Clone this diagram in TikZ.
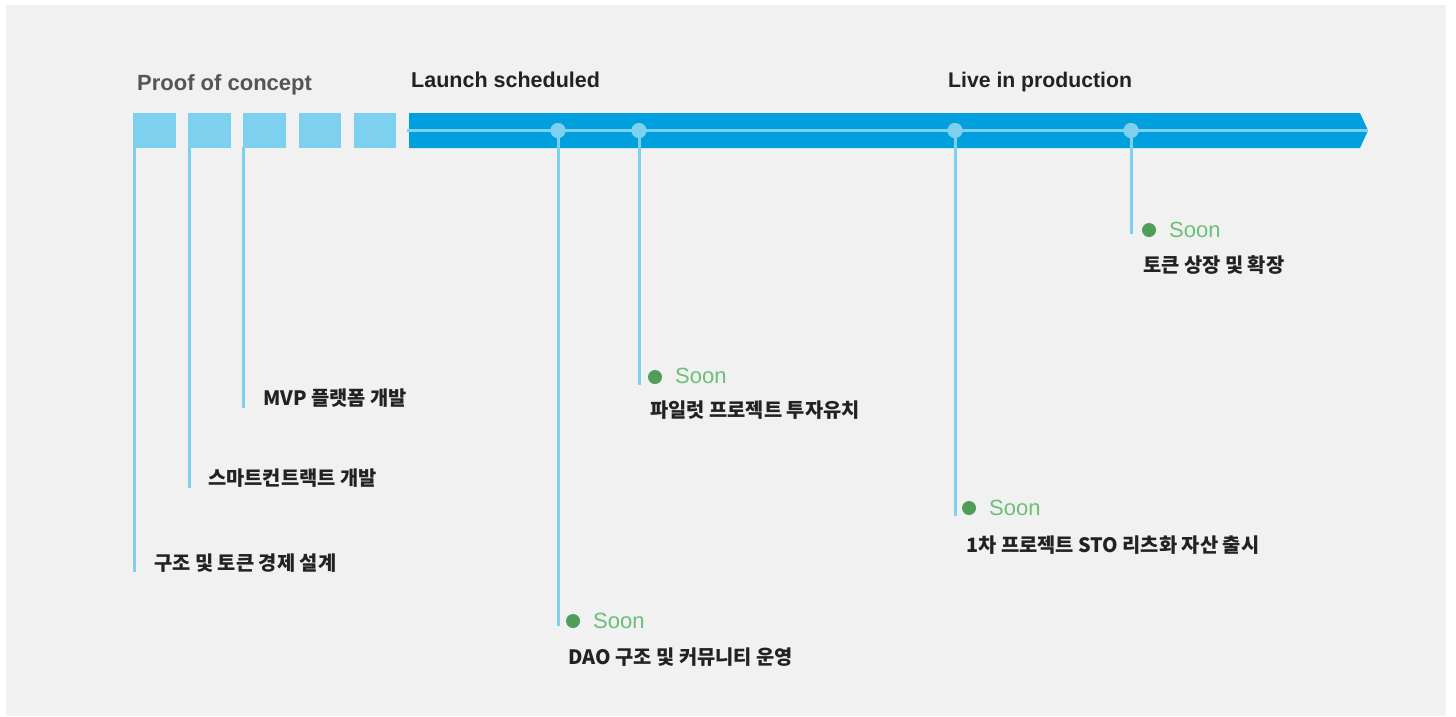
\documentclass[tikz,border=0pt]{standalone}
\usepackage{fontspec}
\setmainfont{Liberation Sans}
\newfontfamily\kr{Noto Sans CJK KR}
\definecolor{bgc}{HTML}{F1F1F1}
\definecolor{lightb}{HTML}{7ED0EF}
\definecolor{barb}{HTML}{00A0DF}
\definecolor{dotg}{HTML}{4E9E5A}
\definecolor{soong}{HTML}{6BBF78}
\definecolor{txt}{HTML}{222222}
\definecolor{greyt}{HTML}{555555}
\tikzset{
  sqbox/.style={fill=lightb, draw=none, minimum width=43pt, minimum height=35pt, inner sep=0pt, anchor=north west},
  bluedot/.style={circle, fill=lightb, draw=none, minimum size=15pt, inner sep=0pt},
  greendot/.style={circle, fill=dotg, draw=none, minimum size=14pt, inner sep=0pt},
  vline/.style={draw=lightb, line width=3pt},
  phase/.style={anchor=base west, inner sep=0pt, font=\fontsize{21.5}{24}\selectfont\bfseries, text=txt},
  soonlbl/.style={anchor=base west, inner sep=0pt, font=\fontsize{22}{24}\selectfont, text=soong},
  task/.style={anchor=base west, inner sep=0pt, font=\kr\bfseries\fontsize{19.8}{22}\selectfont, text=txt}
}
\begin{document}
\begin{tikzpicture}[x=1pt,y=-1pt]
\useasboundingbox (0,0) rectangle (1456,716);
\fill[bgc] (6,5) rectangle (1446,716);
% phase titles
\node[phase, text=greyt, font=\fontsize{22}{24}\selectfont\bfseries] (poc) at (137,90) {Proof of concept};
\node[phase] (launch) at (411,87) {Launch scheduled};
\node[phase, font=\fontsize{21.2}{24}\selectfont\bfseries] (live) at (948,87) {Live in production};
% squares
\node[sqbox] (sq1) at (133,113) {};
\node[sqbox] (sq2) at (188,113) {};
\node[sqbox] (sq3) at (243,113) {};
\node[sqbox, minimum width=42pt] (sq4) at (299,113) {};
\node[sqbox, minimum width=42pt] (sq5) at (354,113) {};
% bar
\fill[barb] (409,113) -- (1360,113) -- (1368,130.5) -- (1360,148) -- (409,148) -- cycle;
\coordinate (ls) at (407,130.5);
\coordinate (le) at (1368,130.5);
\draw[lightb, line width=3pt] (ls) -- (le);
% dots on bar
\node[bluedot] (d1) at (558,130.5) {};
\node[bluedot] (d2) at (639,130.5) {};
\node[bluedot] (d3) at (955,130.5) {};
\node[bluedot] (d4) at (1131,130.5) {};
% line ends
\coordinate (s1top) at (134,147);
\coordinate (s2top) at (189,147);
\coordinate (s3top) at (243,147);
\coordinate (s1end) at (134,572);
\coordinate (s2end) at (189,488);
\coordinate (s3end) at (243,408);
\coordinate (e1) at (558,626);
\coordinate (e2) at (639,385);
\coordinate (e3) at (955,516);
\coordinate (e4) at (1131,234);
\draw[vline] (s1top) -- (s1end);
\draw[vline] (s2top) -- (s2end);
\draw[vline] (s3top) -- (s3end);
\draw[vline] (d1.center) -- (e1);
\draw[vline] (d2.center) -- (e2);
\draw[vline] (d3.center) -- (e3);
\draw[vline] (d4.center) -- (e4);
\node[bluedot] at (d1) {};
\node[bluedot] at (d2) {};
\node[bluedot] at (d3) {};
\node[bluedot] at (d4) {};
% POC tasks
\node[task] (t3) at (263,405) {MVP 플랫폼 개발};
\node[task] (t2) at (208,485) {스마트컨트랙트 개발};
\node[task] (t1) at (154,570) {구조 및 토큰 경제 설계};
% soon items
\node[greendot] (g1) at (573,621) {};
\node[soonlbl] (so1) at (593,628) {Soon};
\node[task] (l1) at (568,664) {DAO 구조 및 커뮤니티 운영};
\node[greendot] (g2) at (655,377) {};
\node[soonlbl] (so2) at (675,383) {Soon};
\node[task] (l2) at (650,417) {파일럿 프로젝트 투자유치};
\node[greendot] (g3) at (969,508) {};
\node[soonlbl] (so3) at (989,515) {Soon};
\node[task] (l3) at (966,552) {1차 프로젝트 STO 리츠화 자산 출시};
\node[greendot] (g4) at (1149,230) {};
\node[soonlbl] (so4) at (1169,237) {Soon};
\node[task] (l4) at (1143,272) {토큰 상장 및 확장};
\end{tikzpicture}
\end{document}
